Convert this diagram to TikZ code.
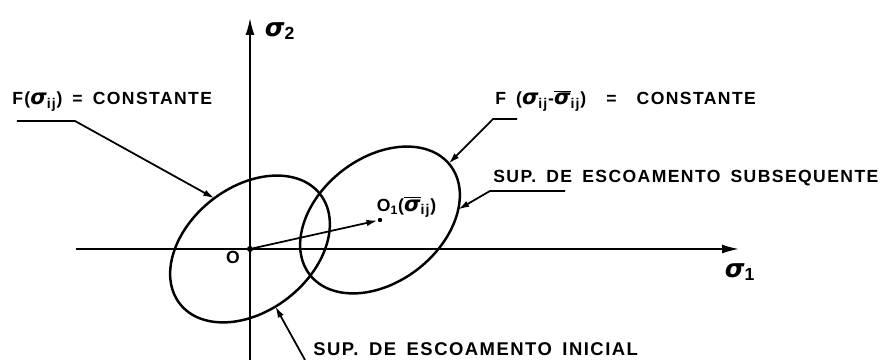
\documentclass[tikz,border=0pt]{standalone}
\usepackage{fontspec}
\setmainfont{Liberation Sans}
\newfontfamily\lettering[LetterSpace=8,WordSpace=1.6]{Liberation Sans}
\newfontfamily\greekfont{DejaVu Sans}
\newcommand{\sig}{{\greekfont\bfseries\itshape σ}}
\newcommand{\sigbar}{$\overline{\hbox{\sig}}$}
\usetikzlibrary{arrows.meta}

\begin{document}
\begin{tikzpicture}[
    axis/.style={line width=1pt, -{Latex[length=3.4mm, width=1.8mm]}},
    surface/.style={line width=1.4pt},
    leader/.style={line width=1pt, -{Latex[length=2.2mm, width=1.3mm]}},
    caption/.style={font=\lettering\bfseries\fontsize{10}{12}\selectfont, inner sep=0pt, anchor=base west},
    pt/.style={circle, fill, inner sep=0pt, minimum size=3.5pt}
]
    \useasboundingbox (0,0) rectangle (17.66,7.2);

    \coordinate (O) at (5.0, 2.22);
    \coordinate (O1) at (7.6, 2.8);
    \coordinate (xa) at (1.52, 2.22);
    \coordinate (xb) at (14.78, 2.22);
    \coordinate (ya) at (5.0, 0);
    \coordinate (yb) at (5.0, 6.84);

    \draw[axis] (xa) -- (xb);
    \draw[axis] (ya) -- (yb);
    \node[caption, anchor=center] (sig1) at (14.8, 1.76) {\Large\sig\textsubscript{1}};
    \node[caption, anchor=center] (sig2) at (5.6, 6.58) {\Large\sig\textsubscript{2}};

    \begin{scope}[shift={(O)}, rotate=38]
        \draw[surface] (0,0) ellipse [x radius=1.78, y radius=1.24];
        \coordinate (e1) at (88:1.78 and 1.24);
        \coordinate (e4) at (260:1.78 and 1.24);
    \end{scope}
    \begin{scope}[shift={(O1)}, rotate=38]
        \draw[surface] (0,0) ellipse [x radius=1.78, y radius=1.24];
        \coordinate (e2) at (2:1.78 and 1.24);
        \coordinate (e3) at (-40:1.78 and 1.24);
    \end{scope}

    \node[pt] (o) at (O) {};
    \node[pt, minimum size=2.5pt] (o1) at (O1) {};
    \draw[leader] (o) -- (o1);
    \node[caption, anchor=center] (olbl) at (4.66, 2.05) {O};
    \node[caption, anchor=south west] (o1lbl) at ([xshift=-2pt, yshift=1pt]O1) {O\textsubscript{1}({\large\sigbar\textsubscript{ij}})};

    \node[caption] (cte0) at (0.24, 5.1) {F({\large\sig\textsubscript{ij}}) = CONSTANTE};
    \coordinate (l1a) at (0.34, 4.78);
    \coordinate (l1b) at (1.5, 4.78);
    \draw[leader] (l1a) -- (l1b) -- (e1);

    \node[caption] (cte1) at (9.9, 5.1) {F ({\large\sig\textsubscript{ij}}-{\large\sigbar\textsubscript{ij}}) \ = \ CONSTANTE};
    \coordinate (l2a) at (10.34, 4.82);
    \coordinate (l2b) at (9.86, 4.82);
    \draw[leader] (l2a) -- (l2b) -- (e2);

    \node[caption] (sub) at (9.86, 3.54) {SUP. DE ESCOAMENTO SUBSEQUENTE};
    \coordinate (l3a) at (11.3, 3.38);
    \coordinate (l3b) at (9.8, 3.38);
    \draw[leader] (l3a) -- (l3b) -- (e3);

    \node[caption, font=\lettering\bfseries\fontsize{10.5}{12}\selectfont] (ini) at (6.26, 0.08) {SUP. DE ESCOAMENTO INICIAL};
    \coordinate (l4a) at (6.1, 0);
    \draw[leader] (l4a) -- (e4);
\end{tikzpicture}
\end{document}
